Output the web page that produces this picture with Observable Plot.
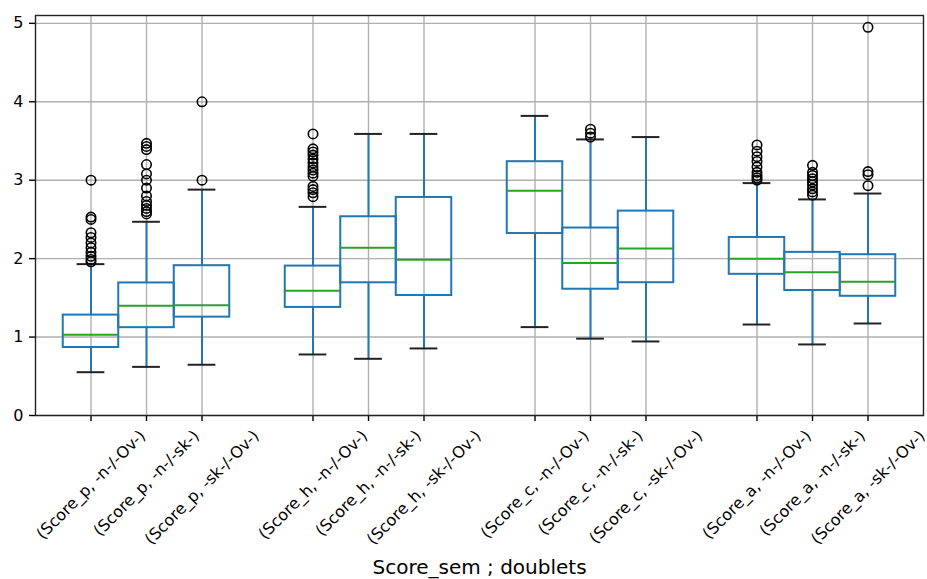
<!DOCTYPE html>
<html>
<head>
<meta charset="utf-8">
<script src="https://cdn.jsdelivr.net/npm/d3@7"></script>
<script src="https://cdn.jsdelivr.net/npm/@observablehq/plot@0.6"></script>
<style>
  html, body { margin: 0; padding: 0; background: white; }
</style>
</head>
<body>
<div id="chart"></div>
<script>
// Score groups and doublet pairs (one box per combination)
const scores = ["Score_p", "Score_h", "Score_c", "Score_a"];
const doublets = ["-n-/-Ov-", "-n-/-sk-", "-sk-/-Ov-"];

// Box statistics, in the order scores × doublets
const q1 = [0.867, 1.12, 1.254, 1.378, 1.692, 1.53, 2.32, 1.61, 1.693, 1.80, 1.594, 1.52];
const medians = [1.03, 1.40, 1.407, 1.59, 2.139, 1.986, 2.866, 1.943, 2.13, 2.0, 1.828, 1.705];
const q3 = [1.28, 1.69, 1.91, 1.905, 2.534, 2.78, 3.236, 2.39, 2.606, 2.27, 2.08, 2.05];
const whiskerLow = [0.552, 0.62, 0.647, 0.778, 0.723, 0.855, 1.127, 0.98, 0.944, 1.16, 0.906, 1.173];
const whiskerHigh = [1.93, 2.47, 2.88, 2.66, 3.59, 3.59, 3.82, 3.52, 3.55, 2.963, 2.755, 2.83];
const outliers = [
  [3.0, 2.53, 2.5, 2.33, 2.27, 2.2, 2.14, 2.08, 2.03, 1.99, 1.96],
  [3.47, 3.43, 3.39, 3.2, 3.08, 3.0, 2.9, 2.8, 2.73, 2.68, 2.64, 2.6, 2.57],
  [4.0, 3.0],
  [3.59, 3.4, 3.36, 3.32, 3.27, 3.22, 3.17, 3.13, 3.09, 3.05, 2.92, 2.88, 2.84, 2.79],
  [],
  [],
  [],
  [3.65, 3.6, 3.55],
  [],
  [3.45, 3.37, 3.3, 3.24, 3.17, 3.1, 3.06, 3.03, 3.0],
  [3.19, 3.1, 3.06, 3.02, 2.98, 2.94, 2.89, 2.85, 2.81],
  [4.95, 3.11, 3.07, 2.93]
];
const yTicks = [0, 1, 2, 3, 4, 5];
const xTitle = "Score_sem ; doublets";

// One row per box; groups are separated by an empty slot
const rows = [];
scores.forEach((s, g) => doublets.forEach((d, k) => {
  const i = g * doublets.length + k;
  rows.push({
    label: `(${s}, ${d})`,
    pos: g * (doublets.length + 1) + k + 1,
    q1: q1[i], med: medians[i], q3: q3[i],
    lo: whiskerLow[i], hi: whiskerHigh[i],
    out: outliers[i]
  });
}));
const fliers = rows.flatMap(r => r.out.map(v => ({pos: r.pos, v})));
const positions = rows.map(r => r.pos);

const blue = "#1f77b4", green = "#2ca02c", grid = "#b0b0b0";
const fontFamily = "DejaVu Sans";
const tickFont = 16;
const lw = 2;

// Rotated tick labels are centred under their tick: measure each to offset it
const ctx = document.createElement("canvas").getContext("2d");
ctx.font = `${tickFont}px "${fontFamily}"`;
const labelMarks = rows.map(r => {
  const w = ctx.measureText(r.label).width;
  const h = tickFont * 1.17;
  const half = (w + h) * Math.SQRT1_2 / 2;
  return Plot.text([r], {
    x: "pos", text: "label", frameAnchor: "bottom",
    dy: 11 + half, rotate: -45, textAnchor: "middle", lineAnchor: "middle",
    fontSize: tickFont, fill: "black"
  });
});

const chart = Plot.plot({
  width: 927,
  height: 579,
  marginTop: 15,
  marginRight: 4,
  marginBottom: 164,
  marginLeft: 35,
  x: {domain: [0, 16], axis: null},
  y: {domain: [0, 5.1], axis: null},
  style: {fontFamily, background: "white", color: "black"},
  marks: [
    Plot.gridY(yTicks, {stroke: grid, strokeOpacity: 1, strokeWidth: 1.4}),
    Plot.gridX(positions, {stroke: grid, strokeOpacity: 1, strokeWidth: 1.4}),
    Plot.axisY(yTicks, {tickSize: 6, tickPadding: 6, tickFormat: d3.format("d"), fontSize: tickFont, strokeWidth: 1.4, label: null}),
    Plot.axisX(positions, {tickSize: 6, tickFormat: () => "", strokeWidth: 1.4, label: null}),
    // whiskers
    Plot.ruleX(rows, {x: "pos", y1: "q3", y2: "hi", stroke: blue, strokeWidth: lw}),
    Plot.ruleX(rows, {x: "pos", y1: "q1", y2: "lo", stroke: blue, strokeWidth: lw}),
    // caps
    Plot.ruleY(rows, {y: "hi", x1: d => d.pos - 0.25, x2: d => d.pos + 0.25, stroke: "#222", strokeWidth: lw}),
    Plot.ruleY(rows, {y: "lo", x1: d => d.pos - 0.25, x2: d => d.pos + 0.25, stroke: "#222", strokeWidth: lw}),
    // boxes
    Plot.rect(rows, {x1: d => d.pos - 0.5, x2: d => d.pos + 0.5, y1: "q1", y2: "q3", fill: "none", stroke: blue, strokeWidth: lw}),
    // medians
    Plot.ruleY(rows, {y: "med", x1: d => d.pos - 0.5, x2: d => d.pos + 0.5, stroke: green, strokeWidth: lw}),
    // outliers
    Plot.dot(fliers, {x: "pos", y: "v", r: 4.7, fill: "none", stroke: "black", strokeWidth: 1.6}),
    Plot.frame({stroke: "#222", strokeWidth: 1.4}),
    ...labelMarks,
    Plot.text([xTitle], {frameAnchor: "bottom", dy: 158, lineAnchor: "bottom", fontSize: 20, fill: "black"})
  ]
});
document.getElementById("chart").appendChild(chart);
</script>
</body>
</html>
